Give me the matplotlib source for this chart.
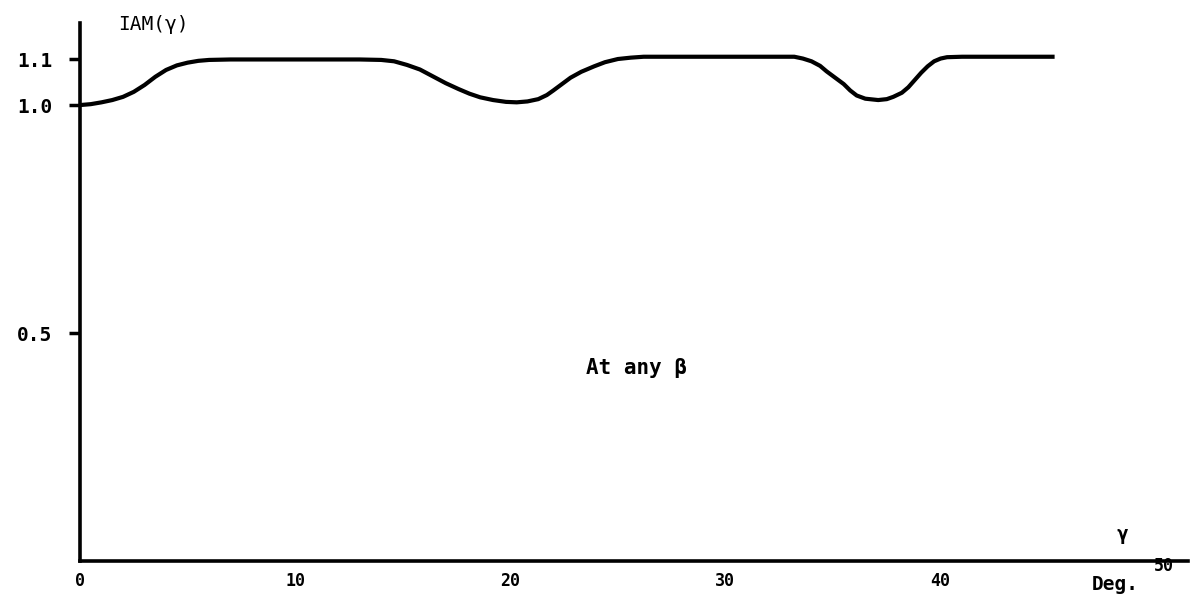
import matplotlib
matplotlib.use("Agg")
import matplotlib.pyplot as plt
import matplotlib.transforms as mtransforms

# Data
gamma_deg = [0.0, 0.5, 1.0, 1.5, 2.0, 2.5, 3.0, 3.5, 4.0, 4.5, 5.0, 5.5, 6.0, 7.0, 13.0,
             14.0, 14.6, 15.2, 15.8, 16.4, 17.0, 17.6, 18.1, 18.6, 19.2, 19.8, 20.3,
             20.8, 21.3, 21.7, 22.0, 22.4, 22.8, 23.3, 23.9, 24.4, 25.0, 25.6, 26.2,
             27.0, 33.2, 33.6, 34.0, 34.4, 34.7, 35.1, 35.5, 35.8, 36.1, 36.5, 37.1,
             37.5, 37.8, 38.2, 38.5, 38.8, 39.1, 39.4, 39.7, 40.0, 40.3, 41.0, 45.3]
iam = [1.000, 1.002, 1.006, 1.011, 1.018, 1.029, 1.044, 1.062, 1.077, 1.087, 1.093,
       1.097, 1.099, 1.100, 1.100,
       1.099, 1.096, 1.088, 1.078, 1.063, 1.048, 1.035, 1.025, 1.017, 1.011, 1.007,
       1.006, 1.008, 1.013, 1.022, 1.032, 1.046, 1.060, 1.073, 1.085, 1.094, 1.101,
       1.104, 1.106, 1.106, 1.106, 1.102, 1.096, 1.086, 1.074, 1.060, 1.046, 1.032,
       1.021, 1.014, 1.011, 1.013, 1.018, 1.027, 1.039, 1.055, 1.071, 1.085, 1.096,
       1.102, 1.105, 1.106, 1.106]
x_ticks = [0, 10, 20, 30, 40, 50]
x_tick_labels = ["0", "10", "20", "30", "40", "50"]
y_ticks = [0.5, 1.0, 1.1]
y_tick_labels = ["0.5", "1.0", "1.1"]

mono = "DejaVu Sans Mono"

fig = plt.figure(figsize=(11.91, 6.03), dpi=100)
ax = fig.add_axes([80 / 1191, 42 / 603, 1108 / 1191, 538 / 603])

ax.plot(gamma_deg, iam, color="black", lw=3.0, solid_joinstyle="round",
        solid_capstyle="butt")

ax.set_xlim(0, 51.5)
ax.set_ylim(0, 1.18)

for s in ["top", "right"]:
    ax.spines[s].set_visible(False)
for s in ["left", "bottom"]:
    ax.spines[s].set_linewidth(2.6)
    ax.spines[s].set_color("black")

ax.set_yticks(y_ticks)
ax.set_yticklabels(y_tick_labels, fontfamily=mono, fontweight="bold", fontsize=14)
ax.tick_params(axis="y", direction="out", length=8, width=2.5, pad=12)

ax.set_xticks(x_ticks)
ax.set_xticklabels(x_tick_labels, fontfamily=mono, fontweight="bold", fontsize=12)
ax.tick_params(axis="x", length=0, pad=8)

# the "50" label sits higher and slightly to the right
lab50 = ax.get_xticklabels()[-1]
lab50.set_transform(lab50.get_transform() +
                    mtransforms.ScaledTranslation(8 / 100, 15 / 100, fig.dpi_scale_trans))

fig.text(118 / 1191, 1 - 24 / 603, "IAM(γ)", fontfamily=mono, fontsize=14,
         ha="left", va="center")
fig.text(636 / 1191, 1 - 368 / 603, "At any β", fontfamily=mono, fontweight="bold",
         fontsize=15, ha="center", va="center")
fig.text(1122 / 1191, 1 - 535 / 603, "γ", fontfamily=mono, fontweight="bold",
         fontsize=14, ha="center", va="center")
fig.text(1115 / 1191, 1 - 584 / 603, "Deg.", fontfamily=mono, fontweight="bold",
         fontsize=14, ha="center", va="center")

fig.savefig("out.png", dpi=100)
